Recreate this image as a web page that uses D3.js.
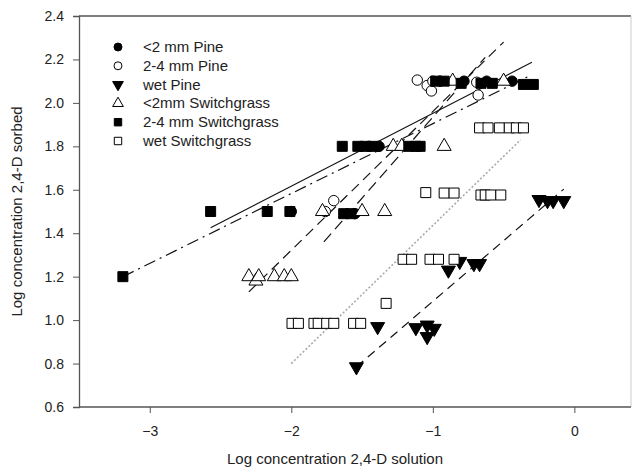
<!DOCTYPE html>
<html>
<head>
<meta charset="utf-8">
<script src="https://cdn.jsdelivr.net/npm/d3@7"></script>
<style>
  body { margin: 0; background: #fff; }
  svg { display: block; font-family: "Liberation Sans", Arial, sans-serif; }
</style>
</head>
<body>
<script>
// series names as in the legend
const seriesNames = ["<2 mm Pine", "2-4 mm Pine", "wet Pine", "<2mm Switchgrass", "2-4 mm Switchgrass", "wet Switchgrass"];

// points: [log solution, log sorbed]
const pineFine = [[-2.0, 1.50], [-1.55, 1.49], [-1.45, 1.80], [-1.38, 1.80],
    [-0.95, 2.10], [-0.78, 2.10], [-0.62, 2.10], [-0.44, 2.10]];
const pineCoarse = [[-1.76, 1.50], [-1.70, 1.55], [-1.11, 2.105], [-1.04, 2.08], [-1.01, 2.055],
    [-1.0, 2.10], [-0.69, 2.095], [-0.68, 2.036]];
const pineWet = [[-1.54, 0.785], [-1.39, 0.97], [-1.12, 0.965], [-1.04, 0.977], [-0.99, 0.962],
    [-1.04, 0.924], [-0.89, 1.23], [-0.81, 1.27], [-0.71, 1.26], [-0.67, 1.26],
    [-0.25, 1.555], [-0.19, 1.55], [-0.15, 1.55], [-0.075, 1.55]];
const grassFine = [[-2.30, 1.20], [-2.25, 1.18], [-2.23, 1.20], [-2.12, 1.20], [-2.05, 1.20], [-2.0, 1.20],
    [-1.78, 1.50], [-1.50, 1.50], [-1.34, 1.50], [-1.28, 1.80], [-1.22, 1.80], [-0.92, 1.80],
    [-0.86, 2.10], [-0.50, 2.10]];
const grassCoarse = [[-3.19, 1.20], [-2.57, 1.50], [-2.17, 1.50], [-2.01, 1.50], [-1.63, 1.49], [-1.58, 1.49],
    [-1.64, 1.80], [-1.53, 1.80], [-1.48, 1.80], [-1.41, 1.80], [-1.17, 1.80], [-1.12, 1.80], [-1.09, 1.80],
    [-0.98, 2.10], [-0.92, 2.10], [-0.80, 2.09], [-0.66, 2.09], [-0.58, 2.09], [-0.36, 2.085], [-0.29, 2.085]];
const grassWet = [[-1.995, 0.985], [-1.95, 0.985], [-1.84, 0.985], [-1.81, 0.985], [-1.75, 0.985], [-1.70, 0.985],
    [-1.56, 0.985], [-1.51, 0.985], [-1.33, 1.077], [-1.21, 1.28], [-1.15, 1.28], [-1.02, 1.28], [-0.96, 1.28],
    [-0.85, 1.28], [-1.05, 1.587], [-0.92, 1.585], [-0.85, 1.585], [-0.66, 1.576], [-0.63, 1.576],
    [-0.59, 1.576], [-0.52, 1.576], [-0.67, 1.885], [-0.61, 1.885], [-0.53, 1.885], [-0.46, 1.885],
    [-0.41, 1.885], [-0.36, 1.885]];

// fitted lines: [x start, y start, x end, y end]
const fitLines = [[-2.57, 1.425, -0.30, 2.187], [-1.77, 1.36, -0.63, 2.21], [-1.54, 0.785, -0.075, 1.603],
    [-2.30, 1.13, -0.50, 2.28], [-3.19, 1.20, -0.33, 2.12], [-2.0, 0.80, -0.38, 1.83]];

const xTicks = [-3, -2, -1, 0];
const yTicks = [0.6, 0.8, 1.0, 1.2, 1.4, 1.6, 1.8, 2.0, 2.2, 2.4];

const allSeries = [pineFine, pineCoarse, pineWet, grassFine, grassCoarse, grassWet];
const shapes = ["circle", "circle", "down", "triangle", "square", "square"];
const filled = [true, false, true, false, true, false];
const dashes = [null, "11,6", "9,6", "10,6", "12,5,2,5", "2,2"];
const lineColors = ["#111", "#111", "#111", "#111", "#111", "#aaa"];

const W = 635, H = 473;
const plot = { left: 79, right: 631, top: 16, bottom: 407 };

const svg = d3.select("body").append("svg")
    .attr("width", W)
    .attr("height", H);

const x = d3.scaleLinear().domain([-3.5, 0.4]).range([plot.left, plot.right]);
const y = d3.scaleLinear().domain([0.6, 2.4]).range([plot.bottom, plot.top]);

function symbolPath(shape, size) {
    if (shape === "circle") return d3.symbol(d3.symbolCircle, size)();
    if (shape === "square") return d3.symbol(d3.symbolSquare, size)();
    return d3.symbol(d3.symbolTriangle, size)();
}

// frame top + right
svg.append("line").attr("x1", plot.left).attr("x2", plot.right)
    .attr("y1", plot.top).attr("y2", plot.top)
    .attr("stroke", "#555").attr("stroke-width", 1.3);
svg.append("line").attr("x1", plot.right).attr("x2", plot.right)
    .attr("y1", plot.top).attr("y2", plot.bottom)
    .attr("stroke", "#ccc").attr("stroke-width", 1);

// axes
const xAxis = svg.append("g")
    .attr("transform", "translate(0," + plot.bottom + ")")
    .call(d3.axisBottom(x).tickValues(xTicks).tickSize(6).tickPadding(13).tickFormat(d3.format("d")));
const yAxis = svg.append("g")
    .attr("transform", "translate(" + plot.left + ",0)")
    .call(d3.axisLeft(y).tickValues(yTicks).tickSize(6).tickPadding(9).tickFormat(d3.format(".1f")));

[xAxis, yAxis].forEach(function(a) {
    a.select(".domain").attr("stroke", "#555").attr("stroke-width", 1.3);
    a.selectAll(".tick line").attr("stroke", "#555");
    a.selectAll("text").attr("fill", "#222").style("font-size", "14px")
        .style("font-family", "Liberation Sans, Arial, sans-serif");
});
// axis line should span full plot width (ticks only on values)
xAxis.select(".domain").attr("d", "M" + plot.left + ",0H" + plot.right);

// axis titles
svg.append("text")
    .attr("x", (plot.left + plot.right) / 2 - 20)
    .attr("y", 464)
    .attr("text-anchor", "middle")
    .style("font-size", "15px")
    .attr("fill", "#222")
    .text("Log concentration 2,4-D solution");

svg.append("text")
    .attr("transform", "translate(22," + ((plot.top + plot.bottom) / 2) + ") rotate(-90)")
    .attr("text-anchor", "middle")
    .style("font-size", "15px")
    .attr("fill", "#222")
    .text("Log concentration 2,4-D sorbed");

// fit lines
svg.selectAll(".fit")
    .data(fitLines)
    .enter().append("line")
    .attr("class", "fit")
    .attr("x1", d => x(d[0])).attr("y1", d => y(d[1]))
    .attr("x2", d => x(d[2])).attr("y2", d => y(d[3]))
    .attr("stroke", (d, i) => lineColors[i])
    .attr("stroke-width", (d, i) => i === 5 ? 1.6 : 1.2)
    .attr("stroke-dasharray", (d, i) => dashes[i]);

// points
allSeries.forEach(function(pts, i) {
    const shape = shapes[i];
    const size = shape === "square" ? 100 : 85;
    svg.append("g").selectAll("path")
        .data(pts)
        .enter().append("path")
        .attr("d", symbolPath(shape, size))
        .attr("transform", d => "translate(" + x(d[0]) + "," + y(d[1]) + ")" + (shape === "down" ? " rotate(180)" : ""))
        .attr("fill", filled[i] ? "#000" : "#fff")
        .attr("stroke", "#000")
        .attr("stroke-width", 1);
});

// legend
const legend = svg.append("g").attr("transform", "translate(118,47)");
seriesNames.forEach(function(name, i) {
    const row = legend.append("g").attr("transform", "translate(0," + (i * 18.8) + ")");
    const shape = shapes[i];
    row.append("path")
        .attr("d", symbolPath(shape, shape === "square" ? 55 : 50))
        .attr("transform", shape === "down" ? "rotate(180)" : null)
        .attr("fill", filled[i] ? "#000" : "#fff")
        .attr("stroke", "#000")
        .attr("stroke-width", 1);
    row.append("text")
        .attr("x", 25)
        .attr("y", 5)
        .style("font-size", "15px")
        .attr("fill", "#222")
        .text(name);
});
</script>
</body>
</html>
